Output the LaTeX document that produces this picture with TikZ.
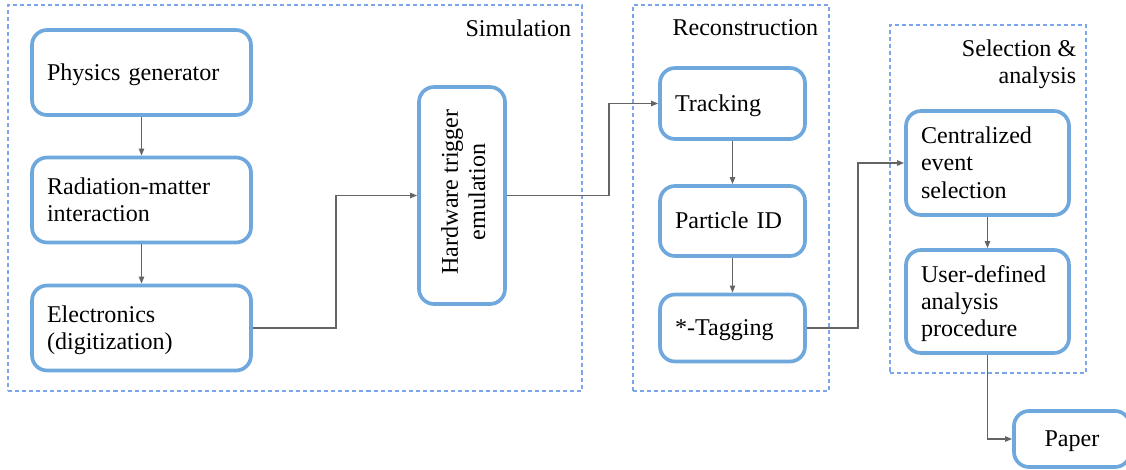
\documentclass[tikz,border=0pt]{standalone}
\usepackage{fontspec}
\setmainfont{Liberation Serif}
\usetikzlibrary{arrows.meta}
\definecolor{boxblue}{RGB}{111,168,220}
\definecolor{dashblue}{RGB}{125,165,235}
\definecolor{arrowgray}{RGB}{100,100,100}

\begin{document}
\begin{tikzpicture}[x=0.02cm,y=-0.02cm,
   every node/.style={font=\fontsize{13.7}{15.5}\selectfont},
   proc/.style={draw=boxblue,line width=2.1pt,rounded corners=0.3cm,fill=white,
     inner xsep=0.3cm,inner ysep=0pt,align=left,
     execute at begin node={\rule{0pt}{0.95em}},
     execute at end node={\rule[-0.3em]{0pt}{0pt}}},
   group/.style={draw=dashblue,line width=0.7pt,dash pattern=on 2.3pt off 1.7pt,inner sep=0pt},
   grouplabel/.style={anchor=north east,inner sep=0pt,align=right},
   flow/.style={draw=arrowgray,line width=0.85pt,-{Triangle[length=4pt,width=3pt]}}]
   \useasboundingbox (0,0) rectangle (1126,470);
   % dashed groups
   \node [group,minimum width=11.48cm,minimum height=7.72cm] (simgrp) at (295,198) {};
   \node [group,minimum width=3.92cm,minimum height=7.72cm] (recogrp) at (731,198) {};
   \node [group,minimum width=3.92cm,minimum height=6.96cm] (selgrp) at (988,199) {};
   \node [grouplabel] (simlbl) at ([shift={(-11,15)}]simgrp.north east) {Simulation};
   \node [grouplabel] (recolbl) at ([shift={(-11,15)}]recogrp.north east) {Reconstruction};
   \node [grouplabel] (sellbl) at ([shift={(-10,15)}]selgrp.north east) {Selection \&\\analysis};
   % simulation
   \node [proc,text width=3.78cm,minimum height=1.70cm] (phys) at (141.5,72.5) {Physics generator};
   \node [proc,text width=3.78cm,minimum height=1.70cm] (rad) at (141.5,200) {Radiation-matter\\interaction};
   \node [proc,text width=3.78cm,minimum height=1.70cm] (elec) at (141.5,328) {Electronics\\(digitization)};
   \node [proc,inner xsep=0pt,minimum width=1.72cm,minimum height=4.34cm] (hw) at (462,195.5)
     {\hspace*{4.5pt}\rotatebox{90}{\begin{tabular}{@{}c@{}}Hardware trigger\\emulation\end{tabular}}};
   % reconstruction
   \node [proc,text width=2.30cm,minimum height=1.42cm] (trk) at (732.5,103.5) {Tracking};
   \node [proc,text width=2.30cm,minimum height=1.40cm] (pid) at (732.5,221) {Particle ID};
   \node [proc,text width=2.30cm,minimum height=1.34cm] (tag) at (732.5,328) {*-Tagging};
   % selection and analysis
   \node [proc,text width=2.66cm,minimum height=2.08cm] (cen) at (987.5,163) {Centralized\\event\\selection};
   \node [proc,text width=2.66cm,minimum height=2.06cm] (usr) at (987.5,301.5) {User-defined\\analysis\\procedure};
   \node [proc,align=center,text width=1.72cm,minimum height=1.12cm] (paper) at (1072,439) {Paper};
   % flow
   \draw [flow] (phys) -- (rad);
   \draw [flow] (rad) -- (elec);
   \draw [flow] (elec.east) -- ++(83,0) |- (hw.west);
   \draw [flow] (hw.east) -- ++(102,0) |- (trk.west);
   \draw [flow] (trk) -- (pid);
   \draw [flow] (pid) -- (tag);
   \draw [flow] (tag.east) -- ++(51,0) |- (cen.west);
   \draw [flow] (cen) -- (usr);
   \draw [flow] (usr.south) |- (paper.west);
\end{tikzpicture}
\end{document}
